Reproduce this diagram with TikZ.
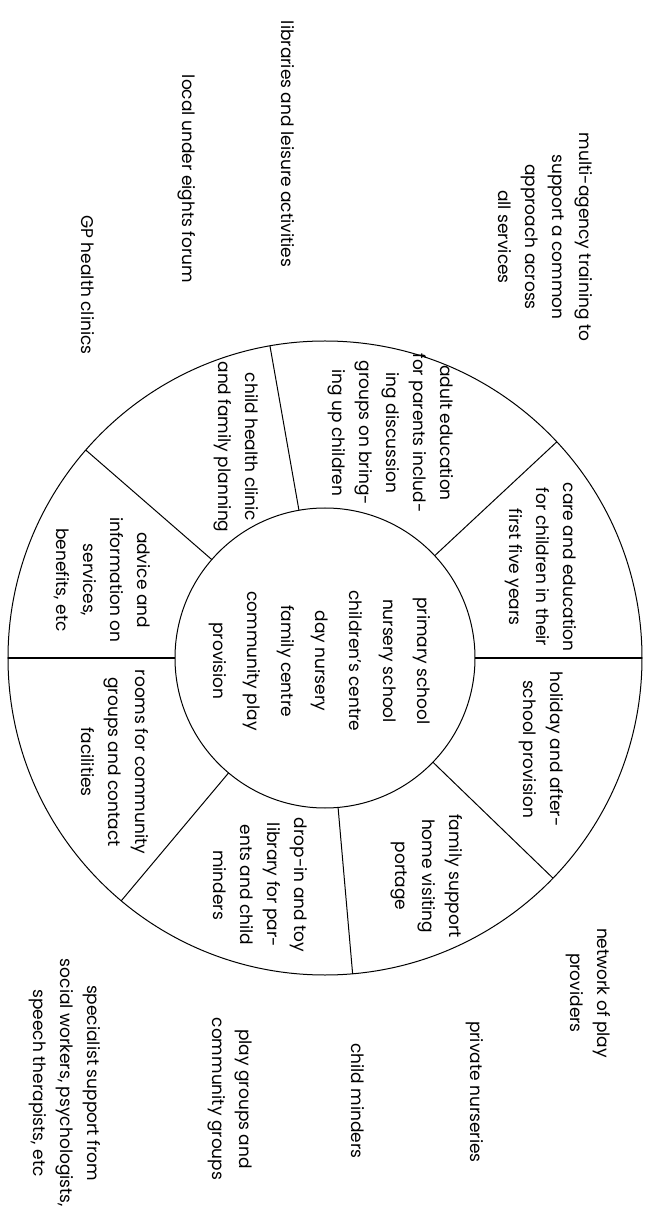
\documentclass[tikz,border=0pt]{standalone}
\usepackage{fontspec}
\setmainfont{Poppins}
\usepackage{tikz}
\usetikzlibrary{positioning}

\begin{document}
\begin{tikzpicture}[x=1pt, y=1pt,
      ring/.style={draw, circle, inner sep=0pt, outer sep=0pt, line width=1pt},
      lbl/.style={rotate=-90, align=center, inner sep=0pt, font=\fontsize{17}{27}\selectfont},
      spoke/.style={line width=1pt},
      bar/.style={line width=2pt}]
    \useasboundingbox (-325,-557) rectangle (328,658);
    \node[ring, minimum size=634pt] (rim) at (0,0) {};
    \node[ring, minimum size=300pt] (hub) at (0,0) {};
    \foreach \a in {43,100,139,230,275,316}
      \draw[spoke] (hub.\a) -- (rim.\a);
    \draw[bar] (hub.east) -- (rim.east);
    \draw[bar] (hub.west) -- (rim.west);
    \node[lbl, font=\fontsize{17}{34}\selectfont] (core) at (-5,-3) {primary school\\nursery school\\children’s centre\\day nursery\\family centre\\community play\\provision};
    \node[lbl] (care) at (216,91) {care and education\\for children in their\\first five years};
    \node[lbl] (adult) at (66,225) {adult education\\for parents includ-\\ing discussion\\groups on bring-\\ing up children};
    \node[lbl] (health) at (-89,211) {child health clinic\\and family planning};
    \node[lbl] (advice) at (-223,78) {advice and\\information on\\services,\\benefits, etc};
    \node[lbl] (rooms) at (-210,-104) {rooms for community\\groups and contact\\facilities};
    \node[lbl] (dropin) at (-65,-227) {drop-in and toy\\library for par-\\ents and child\\minders};
    \node[lbl] (visit) at (102,-218) {family support\\home visiting\\portage};
    \node[lbl] (holiday) at (216,-91) {holiday and after-\\school provision};
    \node[lbl] (training) at (220,421) {multi-agency training to\\support a common\\approach across\\all services};
    \node[lbl] (leisure) at (-37,514) {libraries and leisure activities};
    \node[lbl] (forum) at (-138,479) {local under eights forum};
    \node[lbl] (gp) at (-237,373) {GP health clinics};
    \node[lbl] (network) at (263,-335) {network of play\\providers};
    \node[lbl] (private) at (150,-434) {private nurseries};
    \node[lbl] (minders) at (33,-443) {child minders};
    \node[lbl] (play) at (-95,-441) {play groups and\\community groups};
    \node[lbl] (special) at (-260,-425) {specialist support from\\social workers, psychologists,\\speech therapists, etc};
  \end{tikzpicture}
\end{document}
